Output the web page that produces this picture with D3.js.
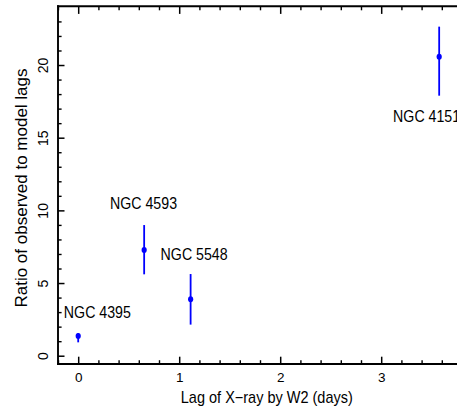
<!DOCTYPE html>
<html>
<head>
<meta charset="utf-8">
<script src="https://cdn.jsdelivr.net/npm/d3@7"></script>
<style>
  html, body { margin: 0; padding: 0; background: #fff; }
  svg { display: block; font-family: "Liberation Sans", Arial, Helvetica, sans-serif; }
</style>
</head>
<body>
<svg id="chart" width="457" height="409"></svg>
<script>
// ---- data ----
const galaxies = ["NGC 4395", "NGC 4593", "NGC 5548", "NGC 4151"];
const lags     = [0.0, 0.653, 1.113, 3.574];     // Lag of X-ray by W2 (days)
const ratios   = [1.36, 7.27, 3.88, 20.57];      // ratio of observed to model lags
const errLow   = [0.92, 5.60, 2.14, 17.89];
const errHigh  = [1.55, 8.99, 5.62, 22.64];
// label anchor positions in data units (start of text, baseline)
const labelLag   = [-0.142, 0.315, 0.816, 3.118];
const labelRatio = [2.59, 10.09, 6.58, 16.11];

const xMajorTicks = [0, 1, 2, 3];
const xMinorTicks = [-0.2, 0.2, 0.4, 0.6, 0.8, 1.2, 1.4, 1.6, 1.8, 2.2, 2.4, 2.6, 2.8, 3.2, 3.4, 3.6, 3.8];
const yMajorTicks = [0, 5, 10, 15, 20];
const yMinorTicks = [1, 2, 3, 4, 6, 7, 8, 9, 11, 12, 13, 14, 16, 17, 18, 19, 21, 22, 23];

const xTitle = "Lag of X\u2212ray by W2 (days)";
const yTitle = "Ratio of observed to model lags";

// ---- layout ----
const svg = d3.select("#chart");
const pLeft = 58, pRight = 462, pTop = 6.3, pBottom = 364;

const x = d3.scaleLinear().domain([-0.2, 3.8]).range([pLeft, pRight]);
const y = d3.scaleLinear().domain([-0.57, 24.04]).range([pBottom, pTop]);

function styleAxis(g, width) {
  g.selectAll("path.domain").remove();
  g.selectAll("line").attr("stroke", "#000").attr("stroke-width", width);
}

// minor ticks
svg.append("g").attr("transform", `translate(0,${pBottom})`)
  .call(d3.axisBottom(x).tickValues(xMinorTicks).tickSize(-3.8).tickFormat(""))
  .call(g => styleAxis(g, 1.4));
svg.append("g").attr("transform", `translate(0,${pTop})`)
  .call(d3.axisTop(x).tickValues(xMinorTicks).tickSize(-4).tickFormat(""))
  .call(g => styleAxis(g, 1.4));
svg.append("g").attr("transform", `translate(${pLeft},0)`)
  .call(d3.axisLeft(y).tickValues(yMinorTicks).tickSize(-3.6).tickFormat(""))
  .call(g => styleAxis(g, 1.4));

// major ticks
const gx = svg.append("g").attr("transform", `translate(0,${pBottom})`)
  .call(d3.axisBottom(x).tickValues(xMajorTicks).tickSize(-7.3).tickPadding(8).tickFormat(d3.format("d")))
  .call(g => styleAxis(g, 1.5));
gx.selectAll("text").attr("fill", "#000").attr("font-size", 13.5)
  .attr("font-family", "Liberation Sans, Arial, sans-serif");

svg.append("g").attr("transform", `translate(0,${pTop})`)
  .call(d3.axisTop(x).tickValues(xMajorTicks).tickSize(-7.6).tickFormat(""))
  .call(g => styleAxis(g, 1.5));

const gy = svg.append("g").attr("transform", `translate(${pLeft},0)`)
  .call(d3.axisLeft(y).tickValues(yMajorTicks).tickSize(-6.5).tickFormat(d3.format("d")))
  .call(g => styleAxis(g, 1.5));
gy.selectAll("text")
  .attr("fill", "#000").attr("font-size", 14)
  .attr("font-family", "Liberation Sans, Arial, sans-serif")
  .attr("x", null).attr("dy", null)
  .attr("text-anchor", "middle")
  .attr("transform", "translate(-9.6,0) rotate(-90)");

// frame lines (left, top, bottom)
const frame = svg.append("g").attr("stroke", "#000").attr("stroke-width", 1.9).attr("fill", "none")
  .attr("stroke-linecap", "square");
frame.append("line").attr("x1", pLeft).attr("x2", pLeft).attr("y1", pTop).attr("y2", pBottom);
frame.append("line").attr("x1", pLeft).attr("x2", pRight).attr("y1", pTop).attr("y2", pTop);
frame.append("line").attr("x1", pLeft).attr("x2", pRight).attr("y1", pBottom).attr("y2", pBottom);

// axis titles
svg.append("text")
  .attr("transform", "translate(266.8,402.5) scale(1,1.1)")
  .attr("text-anchor", "middle")
  .attr("font-size", 14.5)
  .attr("fill", "#000")
  .text(xTitle);

svg.append("text")
  .attr("transform", `translate(27,188) rotate(-90)`)
  .attr("text-anchor", "middle")
  .attr("font-size", 17)
  .attr("fill", "#000")
  .text(yTitle);

// error bars and points
const blue = "#0000ff";
const idx = d3.range(galaxies.length);

svg.append("g").selectAll("line.err").data(idx).join("line")
  .attr("class", "err")
  .attr("x1", i => x(lags[i])).attr("x2", i => x(lags[i]))
  .attr("y1", i => y(errLow[i])).attr("y2", i => y(errHigh[i]))
  .attr("stroke", blue).attr("stroke-width", 1.8);

svg.append("g").selectAll("ellipse").data(idx).join("ellipse")
  .attr("cx", i => x(lags[i])).attr("cy", i => y(ratios[i]))
  .attr("rx", 2.6).attr("ry", 3)
  .attr("fill", blue);

// labels
svg.append("g").selectAll("text").data(idx).join("text")
  .attr("transform", i => `translate(${x(labelLag[i])},${y(labelRatio[i])}) scale(1,1.12)`)
  .attr("font-size", 14.2)
  .attr("fill", "#000")
  .text(i => galaxies[i]);
</script>
</body>
</html>
